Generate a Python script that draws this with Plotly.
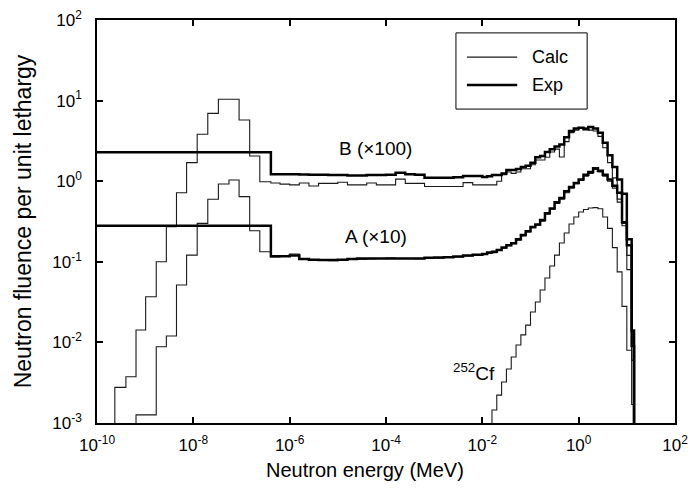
import plotly.graph_objects as go

# ---------------- data (log10 of energy in MeV for bin edges) ----------------
THERMAL_EDGES_LOG = [-9.63, -9.40, -9.19, -8.99, -8.77, -8.56, -8.35, -8.14,
                     -7.92, -7.70, -7.48, -7.26, -7.05, -6.83, -6.62, -6.39]
FAST_EDGES_LOG = [-6.39, -6.2, -6.0, -5.8, -5.6, -5.4, -5.2, -5.0, -4.8, -4.6,
                  -4.4, -4.2, -4.0, -3.8, -3.6, -3.4, -3.2, -3.0, -2.8, -2.6,
                  -2.4, -2.2, -2.0, -1.9, -1.8, -1.7, -1.6, -1.5, -1.4, -1.3,
                  -1.2, -1.1, -1.0, -0.9, -0.8, -0.7, -0.6, -0.5, -0.4, -0.3,
                  -0.2, -0.1, 0.0, 0.1, 0.2, 0.3, 0.4, 0.5, 0.6, 0.7, 0.8, 0.9,
                  1.0, 1.1, 1.15]
EXP_LOW_EDGE_LOG = -11.0
CF_EDGES_LOG = [-1.8, -1.7, -1.6, -1.5, -1.4, -1.3, -1.2, -1.1, -1.0, -0.9,
                -0.8, -0.7, -0.6, -0.5, -0.4, -0.3, -0.2, -0.1, 0.0, 0.1, 0.2,
                0.3, 0.4, 0.5, 0.6, 0.7, 0.8, 0.9, 1.0, 1.1, 1.15]

# B (x100)
B_CALC = [0.00277, 0.00375, 0.01426, 0.0369, 0.100, 0.272, 0.72, 1.70, 3.82,
          6.95, 10.4, 10.4, 5.74, 2.05, 0.986,
          0.95, 0.92, 0.9, 0.95, 0.87, 0.94, 0.94, 0.97, 0.9, 0.9, 0.95, 0.9,
          0.9, 1.06, 0.94, 0.94, 0.86, 0.86, 0.86, 0.86, 0.96, 0.9,
          0.9, 0.9, 0.9, 1.0, 1.2, 1.3, 1.25, 1.3, 1.43, 1.43, 1.6, 1.83, 1.83,
          1.98, 2.3, 2.5, 2.0, 3.1, 4.0, 4.3, 4.5, 4.6, 4.3, 4.2, 3.6, 2.6, 1.7,
          1.1, 0.55, 0.3, 0.08, 0.006]
B_EXP = [2.28,
         1.22, 1.22, 1.22, 1.21, 1.2, 1.2, 1.19, 1.19, 1.18, 1.18, 1.19, 1.19,
         1.2, 1.27, 1.22, 1.2, 1.1, 1.1, 1.1, 1.12, 1.16, 1.16,
         1.13, 1.15, 1.19, 1.19, 1.25, 1.38, 1.38, 1.42, 1.5, 1.55, 1.7, 1.98,
         2.05, 2.3, 2.5, 2.7, 2.85, 3.5, 4.2, 4.5, 4.6, 4.4, 4.7, 4.5, 4.0, 3.0,
         2.1, 1.5, 1.05, 0.7, 0.19, 0.014]

# A (x10)  (calc starts at the third thermal edge)
A_CALC = [0.00126, 0.00126, 0.00885, 0.012, 0.0515, 0.121, 0.30, 0.596, 0.923,
          1.035, 0.643, 0.243, 0.133,
          0.115, 0.118, 0.125, 0.11, 0.105, 0.104, 0.103, 0.105, 0.107, 0.108,
          0.109, 0.11, 0.111, 0.11, 0.11, 0.109, 0.11, 0.111, 0.113, 0.115,
          0.118, 0.12,
          0.123, 0.128, 0.13, 0.138, 0.148, 0.158, 0.168, 0.185, 0.21, 0.235,
          0.265, 0.285, 0.32, 0.39, 0.45, 0.53, 0.6, 0.72, 0.82, 0.93, 1.02,
          1.15, 1.25, 1.4, 1.3, 1.15, 1.0, 0.82, 0.6, 0.28, 0.12, 0.006]
A_EXP = [0.28,
         0.117, 0.117, 0.12, 0.108, 0.106, 0.105, 0.105, 0.106, 0.108, 0.11,
         0.11, 0.11, 0.11, 0.11, 0.11, 0.11, 0.112, 0.113, 0.114, 0.116, 0.12,
         0.122,
         0.125, 0.13, 0.133, 0.14, 0.15, 0.16, 0.17, 0.19, 0.215, 0.24, 0.27,
         0.29, 0.33, 0.4, 0.46, 0.55, 0.62, 0.75, 0.85, 0.95, 1.05, 1.2, 1.3,
         1.45, 1.35, 1.2, 1.05, 0.88, 0.72, 0.31, 0.16, 0.009]

# 252Cf source spectrum
CF_CALC = [0.00145, 0.00222, 0.00323, 0.00468, 0.00659, 0.0093, 0.0124, 0.0164,
           0.0238, 0.0317, 0.0447, 0.063, 0.0887, 0.121, 0.171, 0.228, 0.294,
           0.36, 0.415, 0.446, 0.465, 0.47, 0.455, 0.36, 0.26, 0.15, 0.075,
           0.028, 0.008, 0.0017]

X_TICKS = [-10, -8, -6, -4, -2, 0, 2]
Y_TICKS = [-3, -2, -1, 0, 1, 2]
LEGEND_LABELS = ["Calc", "Exp"]
X_TITLE = "Neutron energy (MeV)"
Y_TITLE = "Neutron fluence per unit lethargy"

FLOOR = 1e-5
FONT = "Liberation Sans, Arial, sans-serif"


def step(edges_log, values):
    e = [10 ** v for v in edges_log]
    xs = [e[0]] + e[:len(values)] + [e[len(values)]]
    ys = [FLOOR] + list(values) + [FLOOR]
    return xs, ys


b_calc_edges = THERMAL_EDGES_LOG + FAST_EDGES_LOG[1:]
a_calc_edges = THERMAL_EDGES_LOG[2:] + FAST_EDGES_LOG[1:]
exp_edges = [EXP_LOW_EDGE_LOG] + FAST_EDGES_LOG

fig = go.Figure()
thin = dict(color="#1a1a1a", width=1.1)
thick = dict(color="#000000", width=2.5)

series = [
    ("Calc", b_calc_edges, B_CALC, thin),
    ("Calc", a_calc_edges, A_CALC, thin),
    ("Calc", CF_EDGES_LOG, CF_CALC, thin),
    ("Exp", exp_edges, B_EXP, thick),
    ("Exp", exp_edges, A_EXP, thick),
]
for name, edges, vals, ln in series:
    xs, ys = step(edges, vals)
    fig.add_trace(go.Scatter(x=xs, y=ys, mode="lines", line=dict(shape="hv", **ln),
                             name=name, showlegend=False))

# legend drawn as a framed key (paper coordinates)
shapes = [dict(type="rect", xref="paper", yref="paper", x0=0.621, x1=0.848,
               y0=0.779, y1=0.968, line=dict(color="black", width=1),
               fillcolor="white", layer="above")]
annotations = []
for label, ln, yk in [(LEGEND_LABELS[0], thin, 0.908), (LEGEND_LABELS[1], thick, 0.839)]:
    shapes.append(dict(type="line", xref="paper", yref="paper", x0=0.640, x1=0.727,
                       y0=yk, y1=yk, line=dict(color=ln["color"], width=ln["width"]),
                       layer="above"))
    annotations.append(dict(x=0.749, y=yk, xref="paper", yref="paper", text=label,
                            showarrow=False, xanchor="left", yanchor="middle",
                            font=dict(size=18)))

annotations += [
    dict(x=-4.21, y=0.41, xref="x", yref="y", text="B (×100)", showarrow=False,
         font=dict(size=19)),
    dict(x=-4.21, y=-0.69, xref="x", yref="y", text="A (×10)", showarrow=False,
         font=dict(size=19)),
    dict(x=-2.18, y=-2.37, xref="x", yref="y", text="<sup>252</sup>Cf",
         showarrow=False, font=dict(size=19)),
    dict(x=0.464, y=-0.117, xref="paper", yref="paper", text=X_TITLE,
         showarrow=False, xanchor="center", yanchor="middle", font=dict(size=20)),
]

fig.update_layout(
    width=692, height=499,
    margin=dict(l=97, r=17, t=20, b=76, autoexpand=False),
    paper_bgcolor="white", plot_bgcolor="white",
    font=dict(family=FONT, size=17, color="black"),
    showlegend=False,
    shapes=shapes,
    annotations=annotations,
)
fig.update_xaxes(
    type="log", range=[-10, 2], automargin=False,
    tickvals=[10 ** t for t in X_TICKS],
    ticktext=[f"10<sup>{t}</sup>" for t in X_TICKS],
    ticks="inside", ticklen=6, tickwidth=1.5, tickcolor="black",
    showline=True, linecolor="black", linewidth=1.5, mirror="ticks",
    showgrid=False, zeroline=False, ticklabelstandoff=6,
    tickfont=dict(size=17),
)
fig.update_yaxes(
    type="log", range=[-3, 2], automargin=False,
    tickvals=[10 ** t for t in Y_TICKS],
    ticktext=[f"10<sup>{t}</sup>" for t in Y_TICKS],
    ticks="inside", ticklen=6, tickwidth=1.5, tickcolor="black",
    showline=True, linecolor="black", linewidth=1.5, mirror="ticks",
    showgrid=False, zeroline=False, ticklabelstandoff=10,
    tickfont=dict(size=17),
    title=dict(text=Y_TITLE, font=dict(size=23), standoff=14),
)

fig.write_html("out.html",
               config={"displayModeBar": False},
               post_script="document.body.style.margin='0';"
                           "document.body.style.overflow='hidden';")
